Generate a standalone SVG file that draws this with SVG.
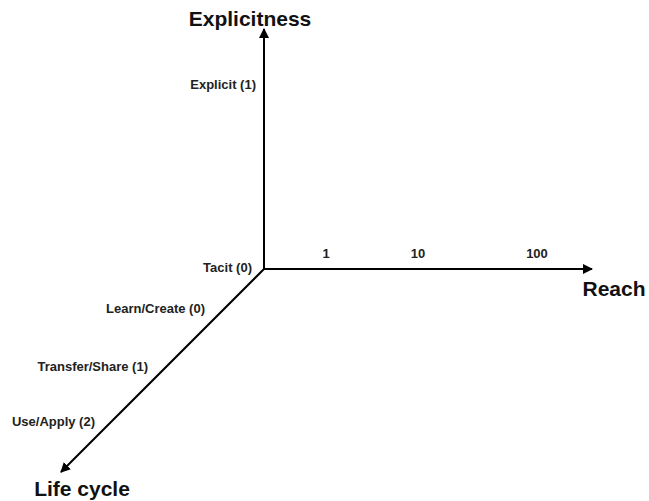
<svg xmlns="http://www.w3.org/2000/svg" width="649" height="501" viewBox="0 0 649 501">
  <defs>
    <marker id="arrow" markerWidth="10" markerHeight="10" refX="9" refY="5" orient="auto" markerUnits="userSpaceOnUse">
      <path d="M0,0 L10,5 L0,10 Z" fill="#000"/>
    </marker>
  </defs>
  <style>
    .axis { stroke: #000; stroke-width: 2; fill: none; }
    .title { font-family: "Liberation Sans", Arial, sans-serif; font-weight: bold; font-size: 21px; fill: #111; }
    .lbl { font-family: "Liberation Sans", Arial, sans-serif; font-weight: bold; font-size: 13px; fill: #222; }
  </style>
  <rect width="649" height="501" fill="#fff"/>

  <!-- axes -->
  <g id="connectors">
    <line class="axis" x1="264" y1="269" x2="264" y2="29" marker-end="url(#arrow)"/>
    <line class="axis" x1="263" y1="269" x2="592" y2="269" marker-end="url(#arrow)"/>
    <line class="axis" x1="264" y1="269" x2="61" y2="472" marker-end="url(#arrow)"/>
  </g>

  <!-- vertical axis: explicitness -->
  <g id="explicitness">
    <text class="title" x="250" y="26" text-anchor="middle">Explicitness</text>
    <text class="lbl" x="256" y="89" text-anchor="end">Explicit (1)</text>
    <text class="lbl" x="252" y="272" text-anchor="end">Tacit (0)</text>
  </g>

  <!-- horizontal axis: reach -->
  <g id="reach">
    <text class="lbl" x="326" y="258" text-anchor="middle">1</text>
    <text class="lbl" x="418" y="258" text-anchor="middle">10</text>
    <text class="lbl" x="537" y="258" text-anchor="middle">100</text>
    <text class="title" x="614" y="296" text-anchor="middle">Reach</text>
  </g>

  <!-- diagonal axis: life cycle -->
  <g id="lifecycle">
    <text class="lbl" x="205" y="313" text-anchor="end">Learn/Create (0)</text>
    <text class="lbl" x="148" y="371" text-anchor="end">Transfer/Share (1)</text>
    <text class="lbl" x="95" y="426" text-anchor="end">Use/Apply (2)</text>
    <text class="title" x="82" y="496" text-anchor="middle">Life cycle</text>
  </g>
</svg>
